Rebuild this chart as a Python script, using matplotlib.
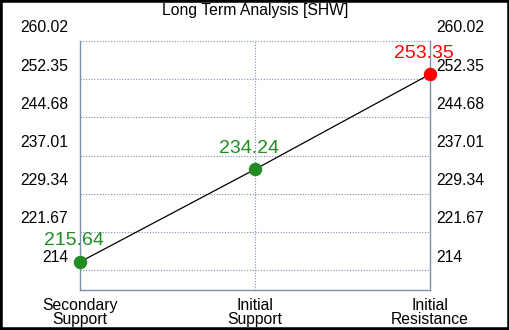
import matplotlib.pyplot as plt
import matplotlib.transforms as mtransforms
from matplotlib.patches import Rectangle

plt.rcParams["font.family"] = ["Liberation Sans", "DejaVu Sans"]

# Données du graphique
categories = ["Secondary\nSupport", "Initial\nSupport", "Initial\nResistance"]
valeurs = [215.64, 234.24, 253.35]
couleurs = ["#228b22", "#228b22", "#ff0000"]
yticks = [214, 221.67, 229.34, 237.01, 244.68, 252.35, 260.02]
ytick_labels = ["214", "221.67", "229.34", "237.01", "244.68", "252.35", "260.02"]

gris_bleu = "#7d8fad"

fig = plt.figure(figsize=(5.1, 3.3), dpi=100)
fig.patch.set_facecolor("white")
ax = fig.add_axes([80 / 510, 40 / 330, 350 / 510, 249 / 330])

x = list(range(len(categories)))
ax.plot(x, valeurs, color="black", linewidth=0.9, zorder=3, clip_on=False)
for xi, v, c in zip(x, valeurs, couleurs):
    ax.scatter([xi], [v], s=75, color=c, zorder=4, clip_on=False)
    ax.annotate(f"{v:.2f}", (xi, v), xytext=(-6, 21), textcoords="offset pixels",
                ha="center", va="center", color=c, fontsize=14)

ax.set_xlim(0, 2)
ax.set_ylim(210, 260.02)
ax.set_xticks(x)
ax.set_xticklabels(categories, fontsize=11.3, linespacing=0.9)
ax.set_yticks(yticks)
ax.set_yticklabels(ytick_labels, fontsize=11.3)
ax.tick_params(axis="both", length=0, colors="black")
ax.tick_params(axis="x", pad=6)
ax.tick_params(axis="y", left=True, right=True, labelleft=True, labelright=True)
ax.tick_params(axis="y", which="major", pad=4.3)

# les étiquettes de l'axe y sont décalées au-dessus de leur ligne
decal = mtransforms.ScaledTranslation(0, 14.5 / 100, fig.dpi_scale_trans)
decal_g = mtransforms.ScaledTranslation(-6 / 100, 14.5 / 100, fig.dpi_scale_trans)
for t in ax.yaxis.get_major_ticks():
    t.label1.set_transform(t.label1.get_transform() + decal_g)
    t.label2.set_transform(t.label2.get_transform() + decal)

ax.grid(True, color=gris_bleu, linestyle=(0, (1, 1.5)), linewidth=0.8)
for sp in ax.spines.values():
    sp.set_color(gris_bleu)
    sp.set_linewidth(1)
ax.spines["top"].set_visible(False)

fig.text(0.5, 1 - 10 / 330, "Long Term Analysis [SHW]", ha="center", va="center", fontsize=11.3)

# cadre noir autour de l'image
fig.patches.append(Rectangle((0, 0), 1, 1, transform=fig.transFigure, fill=False,
                             edgecolor="black", linewidth=4, zorder=10))

plt.savefig("out.png", dpi=100)
